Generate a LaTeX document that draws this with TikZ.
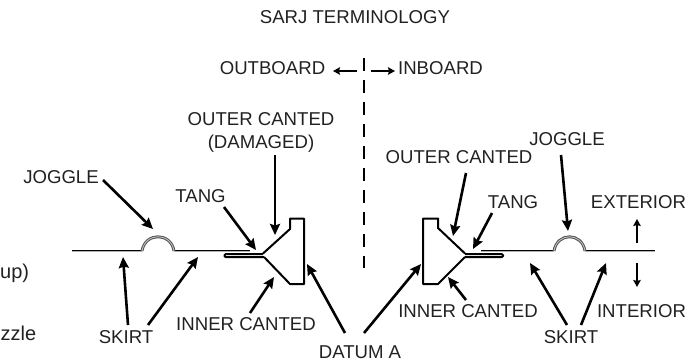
\documentclass[tikz,border=0pt]{standalone}
\usepackage{fontspec}
\setmainfont{Liberation Sans}
\usetikzlibrary{arrows.meta}
\definecolor{ink}{gray}{0.13}
\tikzset{
  lbl/.style={inner sep=0pt,font=\fontsize{18.6}{20}\selectfont,text=ink,anchor=center},
  lead/.style={line width=2.6pt,draw=black,-{Stealth[length=11pt,width=10pt,inset=1.5pt]}},
  leadthin/.style={line width=1.7pt,draw=black,-{Stealth[length=7pt,width=7.5pt,inset=1pt]}},
  skin/.style={draw=black,line width=1.1pt,double=white!70!black,double distance=0.5pt,line cap=butt},
  joggle/.style={draw=black!65,line width=1.1pt,double=white!80!black,double distance=0.7pt},
  ring/.style={draw=black,line width=2pt,line join=round},
  cut/.style={draw=black,line width=2.1pt,dash pattern=on 13pt off 9pt}
}
\begin{document}
\begin{tikzpicture}[x=1pt,y=-1pt]
\useasboundingbox (0,0) rectangle (700,362);
% labels
\node[lbl] (title) at (355,17) {SARJ TERMINOLOGY};
\node[lbl] (outb) at (272.5,68) {OUTBOARD};
\node[lbl] (inb) at (440.5,68) {INBOARD};
\node[lbl,align=center] (ocl) at (261,132) {OUTER CANTED\\[3pt](DAMAGED)};
\node[lbl] (jl) at (61,177) {JOGGLE};
\node[lbl] (tl) at (200.5,196) {TANG};
\node[lbl] (sl) at (126,337) {SKIRT};
\node[lbl] (il) at (246,324) {INNER CANTED};
\node[lbl] (dat) at (360,352) {DATUM A};
\node[lbl] (ocr) at (459,157) {OUTER CANTED};
\node[lbl] (jr) at (567,139) {JOGGLE};
\node[lbl] (tr) at (513,202) {TANG};
\node[lbl] (ext) at (638.5,202) {EXTERIOR};
\node[lbl] (intr) at (641.5,311) {INTERIOR};
\node[lbl] (ir) at (468,311) {INNER CANTED};
\node[lbl] (sr) at (571,337) {SKIRT};
\node[inner sep=0pt,anchor=west,font=\fontsize{20}{22}\selectfont,text=ink] (frag1) at (0,273) {up)};
\node[inner sep=0pt,anchor=west,font=\fontsize{20}{22}\selectfont,text=ink] (frag2) at (0.5,333) {zzle};
% targets
\coordinate (tjl) at (153,229);
\coordinate (ttl) at (256,250);
\coordinate (tol) at (275,235);
\coordinate (ts1) at (123,257);
\coordinate (ts2) at (198,257);
\coordinate (til) at (274,277);
\coordinate (tdl) at (307,264);
\coordinate (tdr) at (421,264);
\coordinate (tor) at (453,236);
\coordinate (ttr) at (473,249);
\coordinate (tjr) at (568,231);
\coordinate (tir) at (448,277);
\coordinate (ts3) at (530,263);
\coordinate (ts4) at (606,263);
\coordinate (text) at (637,219);
\coordinate (tint) at (637,287);
\coordinate (tout) at (333,71);
\coordinate (tin) at (395,71);
\coordinate (cuttop) at (364,58);
\coordinate (cutbot) at (364,268);
% left section
\draw[skin] (72,251) -- (142,251);
\draw[skin] (174,251) -- (250,251);
\draw[joggle] (142,251) .. controls (145,232) and (171,232) .. (174,251);
\draw[ring] (263,253.5) -- (290,229) -- (290,218.5) -- (304,218.5) -- (304,284) -- (290,284) -- (264,257);
\draw[ring,rounded corners=1pt] (263,254.2) -- (224.5,254.2) -- (224.5,257) -- (264,257);
% right section
\draw[skin] (481,251) -- (554,251);
\draw[skin] (585,251) -- (655,251);
\draw[joggle] (554,251) .. controls (557,232) and (582,232) .. (585,251);
\draw[ring] (465,253.5) -- (438,228) -- (438,218.5) -- (423,218.5) -- (423,284) -- (438,284) -- (465,257);
\draw[ring,rounded corners=1pt] (465,254.2) -- (503,254.2) -- (503,257) -- (465,257);
% centre line
\draw[cut] (cuttop) -- (cutbot);
% leaders
\draw[lead] ([shift={(42,3)}]jl.center) -- (tjl);
\draw[lead] ([shift={(23.5,11)}]tl.center) -- (ttl);
\draw[lead] ([shift={(14,23)}]ocl.center) -- (tol);
\draw[lead] ([shift={(2,-12)}]sl.center) -- (ts1);
\draw[lead] ([shift={(22,-12)}]sl.center) -- (ts2);
\draw[lead] ([shift={(4,-11)}]il.center) -- (til);
\draw[lead] ([shift={(-15,-19)}]dat.center) -- (tdl);
\draw[lead] ([shift={(4,-19)}]dat.center) -- (tdr);
\draw[lead] ([shift={(7,16)}]ocr.center) -- (tor);
\draw[lead] ([shift={(-21,11)}]tr.center) -- (ttr);
\draw[lead] ([shift={(-6,16)}]jr.center) -- (tjr);
\draw[lead] ([shift={(-2,-11)}]ir.center) -- (tir);
\draw[lead] ([shift={(-4,-12)}]sr.center) -- (ts3);
\draw[lead] ([shift={(10,-12)}]sr.center) -- (ts4);
\draw[leadthin] ([shift={(-1.5,41)}]ext.center) -- (text);
\draw[leadthin] ([shift={(-4.5,-48)}]intr.center) -- (tint);
\draw[leadthin] ([shift={(84.5,3)}]outb.center) -- (tout);
\draw[leadthin] ([shift={(-69.5,3)}]inb.center) -- (tin);
\end{tikzpicture}
\end{document}
